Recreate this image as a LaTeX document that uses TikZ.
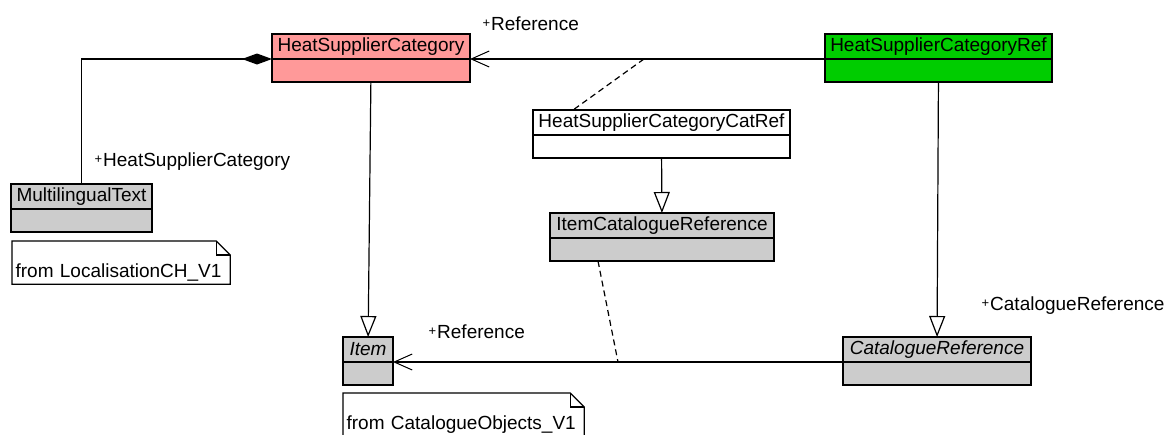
\documentclass[tikz,border=0pt]{standalone}
\usepackage{fontspec}
\setmainfont{Liberation Sans}
\usetikzlibrary{positioning}
\usetikzlibrary{arrows.meta}
\definecolor{pink1}{RGB}{255, 153, 153}
\definecolor{green2}{RGB}{0, 204, 0}
\definecolor{gray1}{RGB}{204, 204, 204}
\newcommand{\rp}{\raisebox{3pt}{\fontsize{13}{13}\selectfont +}\hspace{1pt}}

\begin{document}
\begin{tikzpicture}[x=1pt, y=-1pt, line width=1.2pt, font=\fontsize{19}{22}\selectfont,
  head/.style={draw, anchor=north west, minimum width=#1, minimum height=25pt, inner sep=2pt, outer sep=0pt},
  body/.style={draw, minimum width=#1, minimum height=23pt, inner sep=0pt, outer sep=0pt},
  role/.style={anchor=west, inner sep=0pt},
  note/.style={anchor=north west, text width=#1, align=left, inner xsep=3pt, inner ysep=2.5pt, text height=33pt, text depth=4pt},
  assoc/.style={-{Straight Barb[length=18pt,width=16pt,line width=1pt]}},
  gen/.style={-{Triangle[open,length=21pt,width=16pt,fill=white]}},
  link/.style={dash pattern=on 6pt off 4pt}]
  \useasboundingbox (0,0) rectangle (1169,434);

  \node[head=198pt, fill=pink1] (hsc) at (272,34) {HeatSupplierCategory};
  \node[body=198pt, fill=pink1, below=0pt of hsc] (hscb) {};
  \node[head=227pt, fill=green2] (ref) at (825,34) {HeatSupplierCategoryRef};
  \node[body=227pt, fill=green2, below=0pt of ref] (refb) {};
  \node[head=257pt, fill=white] (catref) at (533,110) {HeatSupplierCategoryCatRef};
  \node[body=257pt, fill=white, below=0pt of catref] (catrefb) {};
  \node[head=224pt, fill=gray1] (icr) at (550,213) {ItemCatalogueReference};
  \node[body=224pt, fill=gray1, below=0pt of icr] (icrb) {};
  \node[head=141pt, fill=gray1] (mlt) at (11,184) {MultilingualText};
  \node[body=141pt, fill=gray1, below=0pt of mlt] (mltb) {};
  \node[head=50pt, fill=gray1] (item) at (343,337) {\itshape Item};
  \node[body=50pt, fill=gray1, below=0pt of item] (itemb) {};
  \node[head=188pt, fill=gray1] (cr) at (843,337) {\itshape CatalogueReference};
  \node[body=188pt, fill=gray1, below=0pt of cr] (crb) {};

  \node[note=211pt] (note1) at (12,241) {from LocalisationCH\_V1};
  \draw (note1.south west) |- ([xshift=-14pt]note1.north east) -- ([yshift=-14pt]note1.north east) |- (note1.south west) -- cycle;
  \draw ([xshift=-14pt]note1.north east) |- ([yshift=-14pt]note1.north east);
  \node[note=234pt] (note2) at (343,393) {from CatalogueObjects\_V1};
  \draw (note2.south west) |- ([xshift=-14pt]note2.north east) -- ([yshift=-14pt]note2.north east) |- (note2.south west) -- cycle;
  \draw ([xshift=-14pt]note2.north east) |- ([yshift=-14pt]note2.north east);

  \node[role] (r1) at (482,24) {\rp Reference};
  \node[role] (r2) at (94,162) {\rp HeatSupplierCategory};
  \node[role] (r3) at (428,332) {\rp Reference};
  \node[role] (r4) at (981,306) {\rp CatalogueReference};

  \draw[-{Diamond[length=30pt,width=11pt]}] (mlt.north) |- (hsc.south west);
  \draw[assoc] (ref.south west) -- coordinate[pos=0.51] (mid1) (hsc.south east);
  \draw[assoc] (cr.south west) -- coordinate[pos=0.5] (mid2) (item.south east);
  \foreach \from/\to in {hscb/item, catrefb/icr, refb/cr}
   \draw[gen] (\from) -- (\to);
  \draw[link] (mid1) -- ([xshift=40pt]catref.north west);
  \draw[link] ([xshift=48pt]icrb.south west) -- (mid2);
\end{tikzpicture}
\end{document}
